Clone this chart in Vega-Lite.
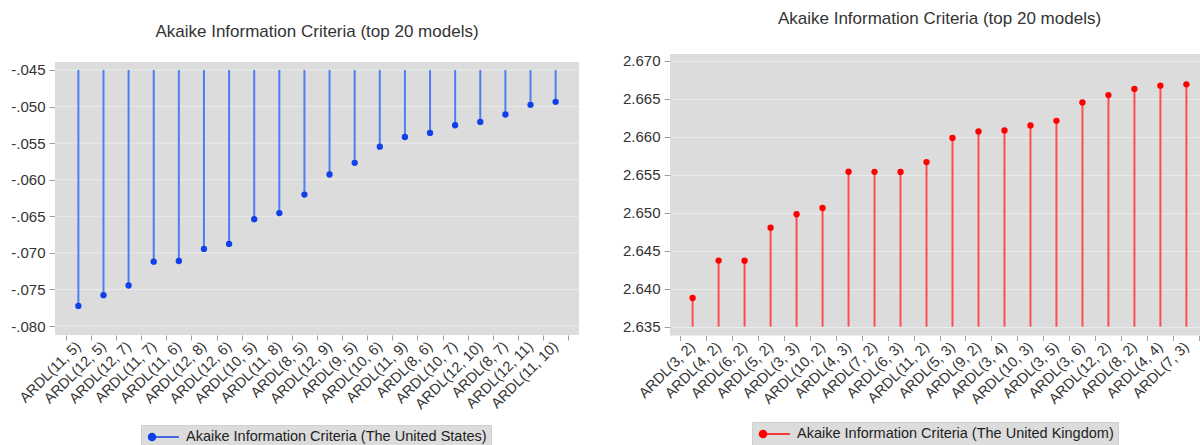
{
  "$schema": "https://vega.github.io/schema/vega-lite/v6.json",
  "background": "white",
  "padding": {"left": 10, "top": 9, "right": 0, "bottom": 0},
  "spacing": 42,
  "datasets": {
    "us": [
      {"model": "ARDL(11, 5)", "aic": -0.07725, "series": "Akaike Information Criteria (The United States)"},
      {"model": "ARDL(12, 5)", "aic": -0.07578, "series": "Akaike Information Criteria (The United States)"},
      {"model": "ARDL(12, 7)", "aic": -0.07446, "series": "Akaike Information Criteria (The United States)"},
      {"model": "ARDL(11, 7)", "aic": -0.07120, "series": "Akaike Information Criteria (The United States)"},
      {"model": "ARDL(11, 6)", "aic": -0.07111, "series": "Akaike Information Criteria (The United States)"},
      {"model": "ARDL(12, 8)", "aic": -0.06946, "series": "Akaike Information Criteria (The United States)"},
      {"model": "ARDL(12, 6)", "aic": -0.06878, "series": "Akaike Information Criteria (The United States)"},
      {"model": "ARDL(10, 5)", "aic": -0.06539, "series": "Akaike Information Criteria (The United States)"},
      {"model": "ARDL(11, 8)", "aic": -0.06456, "series": "Akaike Information Criteria (The United States)"},
      {"model": "ARDL(8, 5)", "aic": -0.06204, "series": "Akaike Information Criteria (The United States)"},
      {"model": "ARDL(12, 9)", "aic": -0.05929, "series": "Akaike Information Criteria (The United States)"},
      {"model": "ARDL(9, 5)", "aic": -0.05769, "series": "Akaike Information Criteria (The United States)"},
      {"model": "ARDL(10, 6)", "aic": -0.05549, "series": "Akaike Information Criteria (The United States)"},
      {"model": "ARDL(11, 9)", "aic": -0.05416, "series": "Akaike Information Criteria (The United States)"},
      {"model": "ARDL(8, 6)", "aic": -0.05361, "series": "Akaike Information Criteria (The United States)"},
      {"model": "ARDL(10, 7)", "aic": -0.05256, "series": "Akaike Information Criteria (The United States)"},
      {"model": "ARDL(12, 10)", "aic": -0.05210, "series": "Akaike Information Criteria (The United States)"},
      {"model": "ARDL(8, 7)", "aic": -0.05109, "series": "Akaike Information Criteria (The United States)"},
      {"model": "ARDL(12, 11)", "aic": -0.04976, "series": "Akaike Information Criteria (The United States)"},
      {"model": "ARDL(11, 10)", "aic": -0.04935, "series": "Akaike Information Criteria (The United States)"}
    ],
    "uk": [
      {"model": "ARDL(3, 2)", "aic": 2.63875, "series": "Akaike Information Criteria (The United Kingdom)"},
      {"model": "ARDL(4, 2)", "aic": 2.64368, "series": "Akaike Information Criteria (The United Kingdom)"},
      {"model": "ARDL(6, 2)", "aic": 2.64366, "series": "Akaike Information Criteria (The United Kingdom)"},
      {"model": "ARDL(5, 2)", "aic": 2.64800, "series": "Akaike Information Criteria (The United Kingdom)"},
      {"model": "ARDL(3, 3)", "aic": 2.64977, "series": "Akaike Information Criteria (The United Kingdom)"},
      {"model": "ARDL(10, 2)", "aic": 2.65060, "series": "Akaike Information Criteria (The United Kingdom)"},
      {"model": "ARDL(4, 3)", "aic": 2.65537, "series": "Akaike Information Criteria (The United Kingdom)"},
      {"model": "ARDL(7, 2)", "aic": 2.65535, "series": "Akaike Information Criteria (The United Kingdom)"},
      {"model": "ARDL(6, 3)", "aic": 2.65534, "series": "Akaike Information Criteria (The United Kingdom)"},
      {"model": "ARDL(11, 2)", "aic": 2.65664, "series": "Akaike Information Criteria (The United Kingdom)"},
      {"model": "ARDL(5, 3)", "aic": 2.65982, "series": "Akaike Information Criteria (The United Kingdom)"},
      {"model": "ARDL(9, 2)", "aic": 2.66066, "series": "Akaike Information Criteria (The United Kingdom)"},
      {"model": "ARDL(3, 4)", "aic": 2.66079, "series": "Akaike Information Criteria (The United Kingdom)"},
      {"model": "ARDL(10, 3)", "aic": 2.66145, "series": "Akaike Information Criteria (The United Kingdom)"},
      {"model": "ARDL(3, 5)", "aic": 2.66207, "series": "Akaike Information Criteria (The United Kingdom)"},
      {"model": "ARDL(3, 6)", "aic": 2.66449, "series": "Akaike Information Criteria (The United Kingdom)"},
      {"model": "ARDL(12, 2)", "aic": 2.66546, "series": "Akaike Information Criteria (The United Kingdom)"},
      {"model": "ARDL(8, 2)", "aic": 2.66625, "series": "Akaike Information Criteria (The United Kingdom)"},
      {"model": "ARDL(4, 4)", "aic": 2.66669, "series": "Akaike Information Criteria (The United Kingdom)"},
      {"model": "ARDL(7, 3)", "aic": 2.66687, "series": "Akaike Information Criteria (The United Kingdom)"}
    ],
    "usgrid": [
      {"v": -0.08}, {"v": -0.075}, {"v": -0.07}, {"v": -0.065}, {"v": -0.06}, {"v": -0.055}, {"v": -0.05}, {"v": -0.045}
    ]
  },
  "config": {
    "view": {"fill": "#dcdcdc", "stroke": null},
    "font": "Liberation Sans",
    "axis": {"labelFont": "Liberation Sans", "labelColor": "#333333", "labelFontSize": 15, "tickColor": "#a0a0a0", "domain": false, "gridColor": "#ebebeb", "gridWidth": 1, "title": null, "labelOverlap": false},
    "title": {"font": "Liberation Sans", "fontSize": 17, "fontWeight": "normal", "color": "#333333", "anchor": "middle"}
  },
  "resolve": {"scale": {"color": "independent"}, "legend": {"color": "independent"}},
  "hconcat": [
    {
      "width": 524,
      "height": 281,
      "view": {"fill": null, "stroke": null},
      "title": {"text": "Akaike Information Criteria (top 20 models)", "offset": 13.5},
      "layer": [
        {"data": {"name": "us"},
          "mark": {"type": "rect", "color": "#dcdcdc"},
          "encoding": {
            "y": {"datum": -0.04391, "type": "quantitative"},
            "y2": {"datum": -0.08123}
          }},
        {"data": {"name": "usgrid"},
          "mark": {"type": "rule", "color": "#ebebeb", "strokeWidth": 1},
          "encoding": {
            "y": {"field": "v", "type": "quantitative"}
          }},
        {"data": {"name": "us"},
          "mark": {"type": "rule", "color": "#4d7ff0", "strokeWidth": 2},
          "encoding": {
            "x": {"field": "model", "type": "nominal", "sort": null,
              "scale": {"paddingInner": 0, "paddingOuter": 0.43},
              "axis": {"labelAngle": -45, "labelAlign": "right", "labelBaseline": "middle", "tickBand": "extent", "tickSize": 5, "labelPadding": 4, "grid": false, "labelFontSize": 14.5}},
            "y": {"field": "aic", "type": "quantitative",
              "scale": {"domain": [-0.08123, -0.042816], "nice": false, "zero": false},
              "axis": {"values": [-0.08, -0.075, -0.07, -0.065, -0.06, -0.055, -0.05, -0.045], "labelExpr": "'-' + substring(format(-datum.value, '.3f'), 1)", "tickSize": 6, "labelPadding": 4, "grid": false}},
            "y2": {"datum": -0.045}
          }},
        {"data": {"name": "us"},
          "mark": {"type": "point", "filled": true, "size": 40, "opacity": 1},
          "encoding": {
            "x": {"field": "model", "type": "nominal", "sort": null},
            "y": {"field": "aic", "type": "quantitative"},
            "color": {"field": "series", "type": "nominal", "scale": {"range": ["#1040e8"]},
              "legend": {"orient": "none", "legendX": 86, "legendY": 371, "title": null,
                "symbolType": "M-0.57,0H3.7M-0.64,0A0.5,0.5,0,1,1,0.36,0A0.5,0.5,0,1,1,-0.64,0Z",
                "symbolSize": 196, "symbolStrokeWidth": 1.5, "symbolStrokeColor": "#1040e8", "symbolFillColor": "#1040e8",
                "fillColor": "#dcdcdc", "strokeColor": "#d0d0d0", "padding": 4, "labelFontSize": 14.5, "labelColor": "#222222",
                "labelOffset": 25, "labelFont": "Liberation Sans", "labelLimit": 500}}
          }}
      ]
    },
    {
      "width": 539,
      "height": 281.5,
      "title": {"text": "Akaike Information Criteria (top 20 models)", "offset": 26},
      "data": {"name": "uk"},
      "encoding": {
        "x": {"field": "model", "type": "nominal", "sort": null,
          "scale": {"paddingInner": 0, "paddingOuter": 0.37},
          "axis": {"labelAngle": -45, "labelAlign": "right", "labelBaseline": "middle", "tickBand": "extent", "tickSize": 5, "labelPadding": 4, "grid": false, "labelFontSize": 14.5}}
      },
      "layer": [
        {"mark": {"type": "rule", "color": "#ff4d4d", "strokeWidth": 2},
          "encoding": {
            "y": {"field": "aic", "type": "quantitative",
              "scale": {"domain": [2.63382, 2.67086], "nice": false, "zero": false},
              "axis": {"values": [2.635, 2.64, 2.645, 2.65, 2.655, 2.66, 2.665, 2.67], "format": ".3f", "tickSize": 6, "labelPadding": 4, "grid": true}},
            "y2": {"datum": 2.635}
          }},
        {"mark": {"type": "point", "filled": true, "size": 40, "opacity": 1},
          "encoding": {
            "y": {"field": "aic", "type": "quantitative"},
            "color": {"field": "series", "type": "nominal", "scale": {"range": ["#ff0000"]},
              "legend": {"orient": "none", "legendX": 82, "legendY": 368, "title": null,
                "symbolType": "M-0.57,0H3.7M-0.64,0A0.5,0.5,0,1,1,0.36,0A0.5,0.5,0,1,1,-0.64,0Z",
                "symbolSize": 196, "symbolStrokeWidth": 1.5, "symbolStrokeColor": "#ff0000", "symbolFillColor": "#ff0000",
                "fillColor": "#dcdcdc", "strokeColor": "#d0d0d0", "padding": 4, "labelFontSize": 14.5, "labelColor": "#222222",
                "labelOffset": 25, "labelFont": "Liberation Sans", "labelLimit": 500}}
          }}
      ]
    }
  ]
}
